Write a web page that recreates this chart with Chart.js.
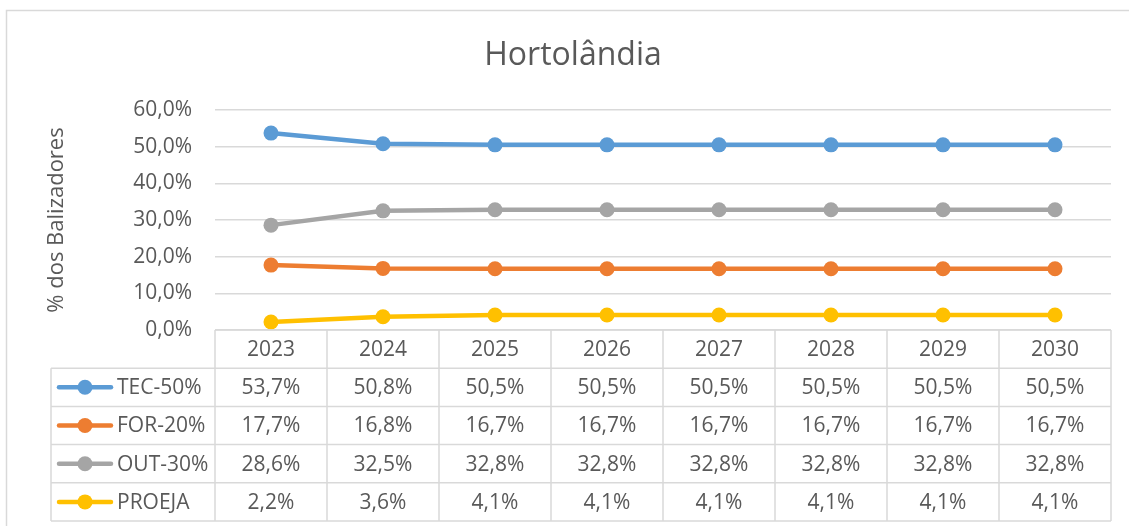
<!DOCTYPE html>
<html>
<head>
<meta charset="utf-8">
<title>Hortolândia</title>
<script src="https://cdn.jsdelivr.net/npm/chart.js@4/dist/chart.umd.min.js"></script>
<style>
    html, body { margin: 0; padding: 0; background: #ffffff; }
    #wrap { width: 1129px; height: 526px; position: relative; }
</style>
</head>
<body>
<div id="wrap"><canvas id="hortChart"></canvas></div>
<script>
// Chart data
const years = ['2023', '2024', '2025', '2026', '2027', '2028', '2029', '2030'];
const seriesNames = ['TEC-50%', 'FOR-20%', 'OUT-30%', 'PROEJA'];
const tecValues = [53.7, 50.8, 50.5, 50.5, 50.5, 50.5, 50.5, 50.5];
const forValues = [17.7, 16.8, 16.7, 16.7, 16.7, 16.7, 16.7, 16.7];
const outValues = [28.6, 32.5, 32.8, 32.8, 32.8, 32.8, 32.8, 32.8];
const proejaValues = [2.2, 3.6, 4.1, 4.1, 4.1, 4.1, 4.1, 4.1];
const yTicks = [0, 10, 20, 30, 40, 50, 60];

const colors = ['#5B9BD5', '#ED7D31', '#A5A5A5', '#FFC000'];
const textColor = '#595959';
const gridColor = '#D9D9D9';
const fontFamily = '"Open Sans", "Noto Sans", sans-serif';

function fmtPct(v) {
    return v.toFixed(1).replace('.', ',') + '%';
}

const allValues = [tecValues, forValues, outValues, proejaValues];

// outer chart border (only top and left visible in the crop)
const borderPlugin = {
    id: 'outerBorder',
    beforeDraw(chart) {
        const ctx = chart.ctx;
        ctx.save();
        ctx.strokeStyle = gridColor;
        ctx.lineWidth = 1.5;
        ctx.strokeRect(6.5, 10.5, 1160, 600);
        ctx.restore();
    }
};

// data table under the plot, columns follow the x scale
const dataTablePlugin = {
    id: 'dataTable',
    afterDraw(chart) {
        const ctx = chart.ctx;
        const area = chart.chartArea;
        const x = chart.scales.x;
        const colW = (area.right - area.left) / years.length;
        const rowH = 38.2;
        const top = area.bottom;
        const tableLeft = 51;
        const nRows = seriesNames.length;
        const bottom = top + rowH * (nRows + 1);

        ctx.save();
        ctx.strokeStyle = gridColor;
        ctx.lineWidth = 1.5;

        // horizontal lines
        ctx.beginPath();
        ctx.moveTo(area.left, top);
        ctx.lineTo(area.right, top);
        for (let r = 1; r <= nRows + 1; r++) {
            const y = top + rowH * r;
            ctx.moveTo(tableLeft, y);
            ctx.lineTo(area.right, y);
        }
        // vertical lines
        for (let c = 0; c <= years.length; c++) {
            const xx = area.left + colW * c;
            ctx.moveTo(xx, top);
            ctx.lineTo(xx, bottom);
        }
        ctx.moveTo(tableLeft, top + rowH);
        ctx.lineTo(tableLeft, bottom);
        ctx.stroke();

        ctx.fillStyle = textColor;
        ctx.font = '21px ' + fontFamily;
        ctx.textAlign = 'center';
        ctx.textBaseline = 'middle';

        // header
        years.forEach((yr, i) => {
            ctx.fillText(yr, x.getPixelForValue(i), top + rowH / 2 + 1);
        });

        // series rows
        seriesNames.forEach((name, r) => {
            const cy = top + rowH * (r + 1.5) + 1;
            // legend key
            ctx.strokeStyle = colors[r];
            ctx.lineWidth = 4.5;
            ctx.lineCap = 'round';
            ctx.beginPath();
            ctx.moveTo(59, cy - 1);
            ctx.lineTo(111, cy - 1);
            ctx.stroke();
            ctx.fillStyle = colors[r];
            ctx.beginPath();
            ctx.arc(85, cy - 1, 7.5, 0, Math.PI * 2);
            ctx.fill();

            ctx.fillStyle = textColor;
            ctx.textAlign = 'left';
            ctx.fillText(name, 117, cy);

            ctx.textAlign = 'center';
            allValues[r].forEach((v, i) => {
                ctx.fillText(fmtPct(v), x.getPixelForValue(i), cy);
            });
        });
        ctx.restore();
    }
};

const ctx = document.getElementById('hortChart').getContext('2d');
new Chart(ctx, {
    type: 'line',
    data: {
        labels: years,
        datasets: allValues.map((vals, i) => ({
            label: seriesNames[i],
            data: vals,
            borderColor: colors[i],
            backgroundColor: colors[i],
            borderWidth: 4.5,
            pointRadius: 7.5,
            pointHoverRadius: 7.5,
            pointBorderWidth: 0,
            pointBackgroundColor: colors[i],
            tension: 0
        }))
    },
    options: {
        responsive: true,
        maintainAspectRatio: false,
        animation: false,
        layout: {
            padding: { left: 35, right: 18, top: 10, bottom: 196 }
        },
        plugins: {
            legend: { display: false },
            tooltip: { enabled: false },
            title: {
                display: true,
                text: 'Hortolândia',
                color: textColor,
                font: { family: fontFamily, size: 32, weight: 'normal', lineHeight: 1.2 },
                padding: { top: 27, bottom: 34.6 }
            }
        },
        scales: {
            x: {
                type: 'category',
                display: false,
                offset: true
            },
            y: {
                min: 0,
                max: 60,
                afterFit(scale) {
                    scale.width = 180;
                },
                afterBuildTicks(scale) {
                    scale.ticks = yTicks.map(v => ({ value: v }));
                },
                border: { display: false },
                grid: {
                    color: gridColor,
                    lineWidth: 1.5,
                    drawTicks: false
                },
                ticks: {
                    color: textColor,
                    padding: 23,
                    font: { family: fontFamily, size: 21 },
                    callback: v => fmtPct(v)
                },
                title: {
                    display: true,
                    text: '% dos Balizadores',
                    color: textColor,
                    font: { family: fontFamily, size: 22, lineHeight: 1.2 },
                    padding: { top: 9, bottom: 0 }
                }
            }
        }
    },
    plugins: [borderPlugin, dataTablePlugin]
});
</script>
</body>
</html>
